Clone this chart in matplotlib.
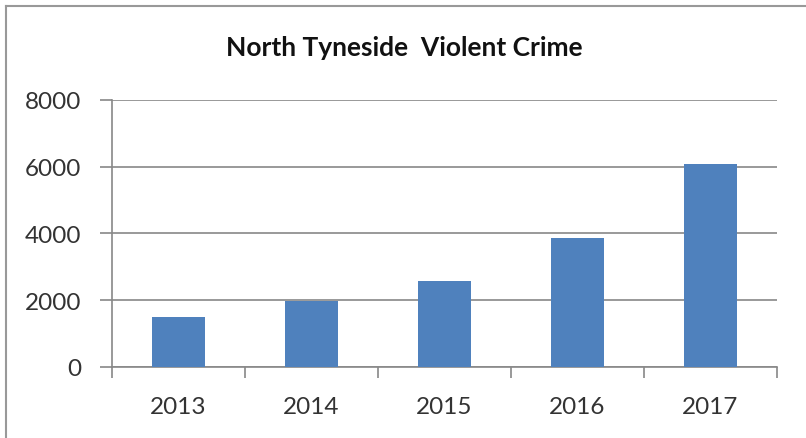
import matplotlib
matplotlib.use("Agg")
import matplotlib.pyplot as plt
from matplotlib.lines import Line2D
import numpy as np

years = ["2013", "2014", "2015", "2016", "2017"]
crimes = [1490, 1980, 2560, 3870, 6080]
y_ticks = [0, 2000, 4000, 6000, 8000]

plt.rcParams['font.family'] = ['Lato', 'DejaVu Sans']

fig = plt.figure(figsize=(8.06, 4.39), dpi=100)
ax = fig.add_axes([0.139, 0.162, 0.825, 0.608])

x = np.arange(len(years))
ax.bar(x, crimes, width=0.4, color='#4F81BD', zorder=3)

ax.set_xlim(-0.5, len(years) - 0.5)
ax.set_ylim(0, 8000)
ax.set_yticks(y_ticks)
ax.set_xticks(x)
ax.set_xticklabels(years)
# category boundary ticks on the x axis
ax.set_xticks(np.arange(-0.5, len(years)), minor=True)
ax.tick_params(axis='x', which='major', length=0, pad=21, labelsize=17.5, labelcolor='#333333')
ax.tick_params(axis='x', which='minor', length=8, width=1.2, color='#888888', direction='out')
ax.tick_params(axis='y', length=9, width=1.2, color='#888888', pad=13, labelsize=17.5, labelcolor='#333333')

ax.grid(axis='y', color='#888888', linewidth=1.2, zorder=0)
for side in ['top', 'right']:
    ax.spines[side].set_visible(False)
for side in ['left', 'bottom']:
    ax.spines[side].set_color('#888888')
    ax.spines[side].set_linewidth(1.2)

fig.text(0.502, 0.89, "North Tyneside  Violent Crime", ha='center', va='center',
         fontsize=19, fontweight='bold', color='#111111')

# chart frame (left and top edges visible)
fig.add_artist(Line2D([0.008, 0.008], [0, 0.985], transform=fig.transFigure, color='#999999', linewidth=1.5))
fig.add_artist(Line2D([0.008, 1.0], [0.985, 0.985], transform=fig.transFigure, color='#999999', linewidth=1.5))

fig.savefig("out.png", dpi=100)
